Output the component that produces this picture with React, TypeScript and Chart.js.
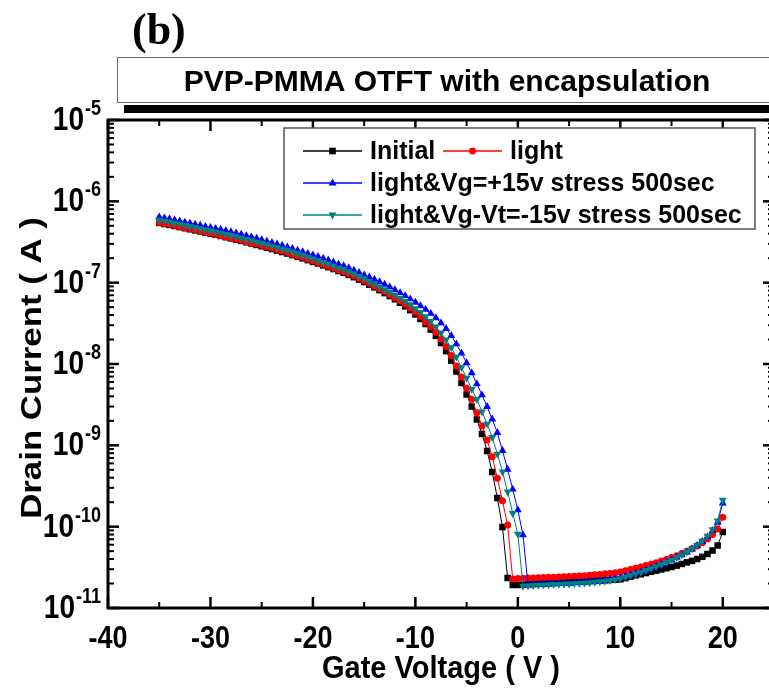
import React, { useEffect, useRef } from 'react';
import { Chart, registerables } from 'chart.js';

Chart.register(...registerables);

// ---------------- data ----------------
const gateVoltage = [
  -35, -34.5, -34, -33.5, -33, -32.5, -32, -31.5, -31, -30.5,
  -30, -29.5, -29, -28.5, -28, -27.5, -27, -26.5, -26, -25.5,
  -25, -24.5, -24, -23.5, -23, -22.5, -22, -21.5, -21, -20.5,
  -20, -19.5, -19, -18.5, -18, -17.5, -17, -16.5, -16, -15.5,
  -15, -14.5, -14, -13.5, -13, -12.5, -12, -11.5, -11, -10.5,
  -10, -9.5, -9, -8.5, -8, -7.5, -7, -6.5, -6, -5.5,
  -5, -4.5, -4, -3.5, -3, -2.5, -2, -1.5, -1, -0.5,
  0, 0.5, 1, 1.5, 2, 2.5, 3, 3.5, 4, 4.5,
  5, 5.5, 6, 6.5, 7, 7.5, 8, 8.5, 9, 9.5,
  10, 10.5, 11, 11.5, 12, 12.5, 13, 13.5, 14, 14.5,
  15, 15.5, 16, 16.5, 17, 17.5, 18, 18.5, 19, 19.5,
  20,
];

const initialCurrent = [
  5.42e-7, 5.26e-7, 5.12e-7, 4.97e-7, 4.82e-7, 4.67e-7, 4.53e-7, 4.39e-7, 4.26e-7, 4.13e-7,
  4.0e-7, 3.88e-7, 3.75e-7, 3.62e-7, 3.5e-7, 3.38e-7, 3.26e-7, 3.14e-7, 3.03e-7, 2.91e-7,
  2.8e-7, 2.69e-7, 2.59e-7, 2.48e-7, 2.38e-7, 2.28e-7, 2.18e-7, 2.08e-7, 1.99e-7, 1.89e-7,
  1.8e-7, 1.72e-7, 1.63e-7, 1.55e-7, 1.47e-7, 1.39e-7, 1.32e-7, 1.245e-7, 1.167e-7, 1.09e-7,
  1.016e-7, 9.44e-8, 8.75e-8, 8.08e-8, 7.44e-8, 6.84e-8, 6.25e-8, 5.67e-8, 5.12e-8, 4.59e-8,
  4.07e-8, 3.58e-8, 3.1e-8, 2.65e-8, 2.22e-8, 1.81e-8, 1.44e-8, 1.1e-8, 8.09e-9, 5.84e-9,
  4.22e-9, 3.0e-9, 2.08e-9, 1.38e-9, 8.52e-10, 4.7e-10, 2.25e-10, 9.9e-11, 2.34e-11, 1.92e-11,
  1.92e-11, 1.93e-11, 1.95e-11, 1.97e-11, 1.99e-11, 2.0e-11, 2.01e-11, 2.03e-11, 2.04e-11, 2.06e-11,
  2.07e-11, 2.09e-11, 2.1e-11, 2.12e-11, 2.14e-11, 2.15e-11, 2.17e-11, 2.19e-11, 2.21e-11, 2.23e-11,
  2.25e-11, 2.33e-11, 2.42e-11, 2.52e-11, 2.6e-11, 2.69e-11, 2.79e-11, 2.88e-11, 2.98e-11, 3.08e-11,
  3.19e-11, 3.32e-11, 3.48e-11, 3.64e-11, 3.8e-11, 4.0e-11, 4.26e-11, 4.61e-11, 5.09e-11, 5.87e-11,
  8.6e-11,
];

const lightCurrent = [
  5.51e-7, 5.35e-7, 5.21e-7, 5.05e-7, 4.9e-7, 4.75e-7, 4.61e-7, 4.46e-7, 4.33e-7, 4.2e-7,
  4.07e-7, 3.95e-7, 3.81e-7, 3.68e-7, 3.56e-7, 3.44e-7, 3.32e-7, 3.19e-7, 3.08e-7, 2.99e-7,
  2.88e-7, 2.77e-7, 2.67e-7, 2.55e-7, 2.45e-7, 2.35e-7, 2.24e-7, 2.14e-7, 2.05e-7, 1.94e-7,
  1.85e-7, 1.77e-7, 1.68e-7, 1.59e-7, 1.51e-7, 1.43e-7, 1.36e-7, 1.3e-7, 1.217e-7, 1.137e-7,
  1.06e-7, 9.85e-8, 9.13e-8, 8.43e-8, 7.76e-8, 7.13e-8, 6.52e-8, 6.0e-8, 5.43e-8, 4.88e-8,
  4.34e-8, 3.84e-8, 3.34e-8, 2.89e-8, 2.45e-8, 2.03e-8, 1.64e-8, 1.27e-8, 9.46e-9, 6.92e-9,
  5.02e-9, 3.68e-9, 2.52e-9, 1.73e-9, 1.16e-9, 7.25e-10, 3.93e-10, 2.09e-10, 1.05e-10, 2.27e-11,
  2.3e-11, 2.32e-11, 2.33e-11, 2.34e-11, 2.35e-11, 2.37e-11, 2.38e-11, 2.39e-11, 2.41e-11, 2.42e-11,
  2.44e-11, 2.46e-11, 2.48e-11, 2.5e-11, 2.53e-11, 2.56e-11, 2.59e-11, 2.63e-11, 2.66e-11, 2.71e-11,
  2.77e-11, 2.87e-11, 2.97e-11, 3.08e-11, 3.19e-11, 3.32e-11, 3.46e-11, 3.61e-11, 3.77e-11, 3.96e-11,
  4.17e-11, 4.4e-11, 4.67e-11, 4.98e-11, 5.34e-11, 5.78e-11, 6.33e-11, 7.05e-11, 8.01e-11, 9.36e-11,
  1.31e-10,
];

const stressPositiveCurrent = [
  6.42e-7, 6.23e-7, 6.07e-7, 5.89e-7, 5.71e-7, 5.53e-7, 5.37e-7, 5.2e-7, 5.05e-7, 4.89e-7,
  4.76e-7, 4.62e-7, 4.51e-7, 4.35e-7, 4.21e-7, 4.06e-7, 3.92e-7, 3.77e-7, 3.64e-7, 3.5e-7,
  3.37e-7, 3.23e-7, 3.11e-7, 2.98e-7, 2.86e-7, 2.74e-7, 2.62e-7, 2.5e-7, 2.39e-7, 2.27e-7,
  2.19e-7, 2.09e-7, 1.99e-7, 1.89e-7, 1.79e-7, 1.69e-7, 1.61e-7, 1.52e-7, 1.42e-7, 1.33e-7,
  1.24e-7, 1.167e-7, 1.097e-7, 1.022e-7, 9.52e-8, 8.85e-8, 8.18e-8, 7.52e-8, 6.89e-8, 6.3e-8,
  5.72e-8, 5.17e-8, 4.67e-8, 4.17e-8, 3.69e-8, 3.19e-8, 2.72e-8, 2.23e-8, 1.76e-8, 1.36e-8,
  1.03e-8, 7.74e-9, 5.68e-9, 4.16e-9, 2.99e-9, 2.09e-9, 1.43e-9, 8.59e-10, 5.07e-10, 2.88e-10,
  1.6e-10, 7.9e-11, 1.92e-11, 1.93e-11, 1.95e-11, 1.97e-11, 1.98e-11, 1.99e-11, 2.0e-11, 2.01e-11,
  2.02e-11, 2.04e-11, 2.06e-11, 2.08e-11, 2.1e-11, 2.12e-11, 2.15e-11, 2.19e-11, 2.24e-11, 2.29e-11,
  2.37e-11, 2.45e-11, 2.55e-11, 2.66e-11, 2.79e-11, 2.92e-11, 3.08e-11, 3.25e-11, 3.44e-11, 3.65e-11,
  3.89e-11, 4.17e-11, 4.49e-11, 4.86e-11, 5.3e-11, 5.85e-11, 6.55e-11, 7.46e-11, 8.9e-11, 1.13e-10,
  1.95e-10,
];

const stressNegativeCurrent = [
  5.9e-7, 5.73e-7, 5.58e-7, 5.41e-7, 5.25e-7, 5.09e-7, 4.93e-7, 4.78e-7, 4.64e-7, 4.5e-7,
  4.36e-7, 4.23e-7, 4.08e-7, 3.94e-7, 3.81e-7, 3.68e-7, 3.55e-7, 3.42e-7, 3.32e-7, 3.19e-7,
  3.07e-7, 2.95e-7, 2.84e-7, 2.72e-7, 2.61e-7, 2.5e-7, 2.39e-7, 2.28e-7, 2.18e-7, 2.07e-7,
  1.97e-7, 1.88e-7, 1.78e-7, 1.7e-7, 1.61e-7, 1.52e-7, 1.46e-7, 1.37e-7, 1.29e-7, 1.2e-7,
  1.12e-7, 1.04e-7, 9.66e-8, 8.92e-8, 8.21e-8, 7.66e-8, 7.1e-8, 6.49e-8, 5.93e-8, 5.38e-8,
  4.82e-8, 4.33e-8, 3.83e-8, 3.35e-8, 2.87e-8, 2.42e-8, 1.99e-8, 1.59e-8, 1.22e-8, 9.06e-9,
  6.73e-9, 4.89e-9, 3.68e-9, 2.59e-9, 1.83e-9, 1.255e-9, 7.82e-10, 4.74e-10, 2.69e-10, 1.46e-10,
  8.13e-11, 1.86e-11, 1.88e-11, 1.9e-11, 1.91e-11, 1.92e-11, 1.93e-11, 1.95e-11, 1.96e-11, 1.97e-11,
  1.98e-11, 2.0e-11, 2.01e-11, 2.03e-11, 2.05e-11, 2.08e-11, 2.11e-11, 2.14e-11, 2.18e-11, 2.24e-11,
  2.31e-11, 2.41e-11, 2.51e-11, 2.63e-11, 2.75e-11, 2.9e-11, 3.06e-11, 3.24e-11, 3.44e-11, 3.66e-11,
  3.9e-11, 4.19e-11, 4.52e-11, 4.91e-11, 5.38e-11, 5.95e-11, 6.7e-11, 7.68e-11, 9.23e-11, 1.18e-10,
  2.13e-10,
];

const seriesNames = [
  'Initial',
  'light',
  'light&Vg=+15v stress 500sec',
  'light&Vg-Vt=-15v stress 500sec',
];
const seriesColors = ['#000000', '#ff0000', '#0000ff', '#008080'];

const xMajorTicks = [-40, -30, -20, -10, 0, 10, 20];
const xMinorTicks = [-35, -25, -15, -5, 5, 15];
const yDecadeExponents = [-11, -10, -9, -8, -7, -6, -5];
const yMinorMultipliers = [2, 3, 4, 5, 6, 7, 8, 9];

const chartTitle = 'PVP-PMMA OTFT with encapsulation';
const panelLabel = '(b)';
const xAxisTitle = 'Gate Voltage ( V )';
const yAxisTitle = 'Drain Current ( A )';

// ---------------- drawing helpers ----------------
const SANS = '"Liberation Sans", Arial, Helvetica, sans-serif';
const SERIF = '"Liberation Serif", "Times New Roman", serif';
const STRETCH = 1.18; // axis lettering is taller than wide in the source figure

function drawMarker(ctx: CanvasRenderingContext2D, kind: string, x: number, y: number, color: string) {
  ctx.fillStyle = color;
  ctx.beginPath();
  if (kind === 'rect') {
    ctx.rect(x - 3.3, y - 3.3, 6.6, 6.6);
  } else if (kind === 'circle') {
    ctx.arc(x, y, 3.5, 0, Math.PI * 2);
  } else if (kind === 'up') {
    ctx.moveTo(x, y - 4.6);
    ctx.lineTo(x + 4.0, y + 2.6);
    ctx.lineTo(x - 4.0, y + 2.6);
    ctx.closePath();
  } else {
    ctx.moveTo(x, y + 4.6);
    ctx.lineTo(x + 4.0, y - 2.6);
    ctx.lineTo(x - 4.0, y - 2.6);
    ctx.closePath();
  }
  ctx.fill();
}

const decorPlugin = {
  id: 'decor',
  beforeDraw(chart: any) {
    const ctx = chart.ctx as CanvasRenderingContext2D;
    ctx.save();
    ctx.fillStyle = '#ffffff';
    ctx.fillRect(0, 0, chart.width, chart.height);
    ctx.restore();
  },
  afterDraw(chart: any) {
    const ctx = chart.ctx as CanvasRenderingContext2D;
    const a = chart.chartArea;
    const xs = chart.scales.x;
    const ys = chart.scales.y;
    ctx.save();

    const seg = (x1: number, y1: number, x2: number, y2: number, w: number) => {
      ctx.lineWidth = w;
      ctx.beginPath();
      ctx.moveTo(x1, y1);
      ctx.lineTo(x2, y2);
      ctx.stroke();
    };
    const stretchedText = (t: string, x: number, y: number, sy: number) => {
      ctx.save();
      ctx.translate(x, y);
      ctx.scale(1, sy);
      ctx.fillText(t, 0, 0);
      ctx.restore();
    };
    ctx.strokeStyle = '#000';

    // ticks (inside, mirrored on all sides)
    xMajorTicks.forEach((v) => {
      const px = xs.getPixelForValue(v);
      seg(px, a.bottom, px, a.bottom - 11, 2.5);
      seg(px, a.top, px, a.top + 11, 2.5);
    });
    xMinorTicks.forEach((v) => {
      const px = xs.getPixelForValue(v);
      seg(px, a.bottom, px, a.bottom - 6, 2);
      seg(px, a.top, px, a.top + 6, 2);
    });
    yDecadeExponents.forEach((e) => {
      const py = ys.getPixelForValue(Math.pow(10, e));
      seg(a.left, py, a.left + 11, py, 2.5);
      seg(a.right, py, a.right - 11, py, 2.5);
      if (e < -5) {
        yMinorMultipliers.forEach((m) => {
          const pm = ys.getPixelForValue(m * Math.pow(10, e));
          seg(a.left, pm, a.left + 6, pm, 2);
          seg(a.right, pm, a.right - 6, pm, 2);
        });
      }
    });

    // axis frame
    ctx.lineWidth = 3;
    ctx.strokeRect(a.left, a.top, a.right - a.left, a.bottom - a.top);

    ctx.fillStyle = '#000';
    // x tick labels
    ctx.font = `bold 27px ${SANS}`;
    ctx.textAlign = 'center';
    ctx.textBaseline = 'alphabetic';
    xMajorTicks.forEach((v) => {
      stretchedText(String(v), xs.getPixelForValue(v), a.bottom + 40, STRETCH);
    });

    // y tick labels 10^n
    yDecadeExponents.forEach((e) => {
      const py = ys.getPixelForValue(Math.pow(10, e));
      const sup = String(e);
      ctx.font = `bold 18px ${SANS}`;
      const supW = ctx.measureText(sup).width;
      const right = 101;
      ctx.textAlign = 'left';
      ctx.textBaseline = 'alphabetic';
      stretchedText(sup, right - supW, py - 5, STRETCH);
      ctx.font = `bold 28px ${SANS}`;
      ctx.textAlign = 'right';
      stretchedText('10', right - supW - 1, py + 10, STRETCH);
    });

    // axis titles
    ctx.font = `bold 29px ${SANS}`;
    ctx.textAlign = 'center';
    ctx.textBaseline = 'alphabetic';
    stretchedText(xAxisTitle, (a.left + a.right) / 2, a.bottom + 70, 1.08);
    ctx.save();
    ctx.translate(41, 368);
    ctx.rotate(-Math.PI / 2);
    ctx.scale(1.2, 1);
    ctx.fillText(yAxisTitle, 0, 0);
    ctx.restore();

    // legend
    ctx.fillStyle = '#fff';
    ctx.fillRect(284, 128, 471, 101);
    ctx.strokeStyle = '#555';
    ctx.lineWidth = 1.5;
    ctx.strokeRect(284, 128, 471, 101);
    const kinds = ['rect', 'circle', 'up', 'down'];
    const items = [
      { i: 0, x: 303, y: 151 },
      { i: 1, x: 443, y: 151 },
      { i: 2, x: 303, y: 183 },
      { i: 3, x: 303, y: 215 },
    ];
    items.forEach(({ i, x, y }) => {
      ctx.strokeStyle = seriesColors[i];
      seg(x, y, x + 59, y, 1.5);
      drawMarker(ctx, kinds[i], x + 29.5, y, seriesColors[i]);
      ctx.fillStyle = '#000';
      ctx.font = `bold 25px ${SANS}`;
      ctx.textAlign = 'left';
      ctx.textBaseline = 'middle';
      ctx.fillText(seriesNames[i], x + 67, y + 1);
    });

    // title box with shadow bar
    ctx.fillStyle = '#000';
    ctx.fillRect(124, 105, 700, 8);
    ctx.fillStyle = '#fff';
    ctx.fillRect(117, 57, 700, 45);
    ctx.strokeStyle = '#666';
    ctx.lineWidth = 1;
    ctx.strokeRect(117.5, 57.5, 700, 45);
    ctx.fillStyle = '#000';
    ctx.font = `bold 30px ${SANS}`;
    ctx.textAlign = 'center';
    ctx.textBaseline = 'alphabetic';
    ctx.fillText(chartTitle, 447, 91);

    // panel label
    ctx.font = `bold 44px ${SERIF}`;
    ctx.textAlign = 'left';
    ctx.fillText(panelLabel, 132, 44);

    ctx.restore();
  },
};

function points(values: number[]) {
  return gateVoltage.map((v, i) => ({ x: v, y: values[i] }));
}

export default function App() {
  const ref = useRef<HTMLCanvasElement>(null);

  useEffect(() => {
    if (!ref.current) return;
    const base = { borderWidth: 1, pointBorderWidth: 0, pointHoverRadius: 0, tension: 0, fill: false };
    const chart = new Chart(ref.current, {
      type: 'line',
      data: {
        datasets: [
          { ...base, label: seriesNames[0], data: points(initialCurrent), borderColor: seriesColors[0], backgroundColor: seriesColors[0], pointBackgroundColor: seriesColors[0], pointStyle: 'rect', pointRadius: 4.6, order: 3 },
          { ...base, label: seriesNames[1], data: points(lightCurrent), borderColor: seriesColors[1], backgroundColor: seriesColors[1], pointBackgroundColor: seriesColors[1], pointStyle: 'circle', pointRadius: 3.5, order: 2 },
          { ...base, label: seriesNames[2], data: points(stressPositiveCurrent), borderColor: seriesColors[2], backgroundColor: seriesColors[2], pointBackgroundColor: seriesColors[2], pointStyle: 'triangle', pointRadius: 4.6, order: 1 },
          { ...base, label: seriesNames[3], data: points(stressNegativeCurrent), borderColor: seriesColors[3], backgroundColor: seriesColors[3], pointBackgroundColor: seriesColors[3], pointStyle: 'triangle', pointRotation: 180, pointRadius: 4.6, order: 0 },
        ] as any,
      },
      options: {
        responsive: false,
        animation: false,
        events: [],
        layout: { padding: { left: 108, right: 26, top: 120, bottom: 81 } },
        plugins: { legend: { display: false }, tooltip: { enabled: false }, title: { display: false } },
        scales: {
          x: { type: 'linear', min: -40, max: 25, display: false },
          y: { type: 'logarithmic', min: 1e-11, max: 1e-5, display: false },
        },
      } as any,
      plugins: [decorPlugin as any],
    });
    return () => chart.destroy();
  }, []);

  return (
    <div style={{ position: 'fixed', left: 0, top: 0, width: 769, height: 689, overflow: 'hidden', background: '#fff' }}>
      <canvas ref={ref} width={800} height={689} style={{ display: 'block', width: 800, height: 689 }} />
    </div>
  );
}
